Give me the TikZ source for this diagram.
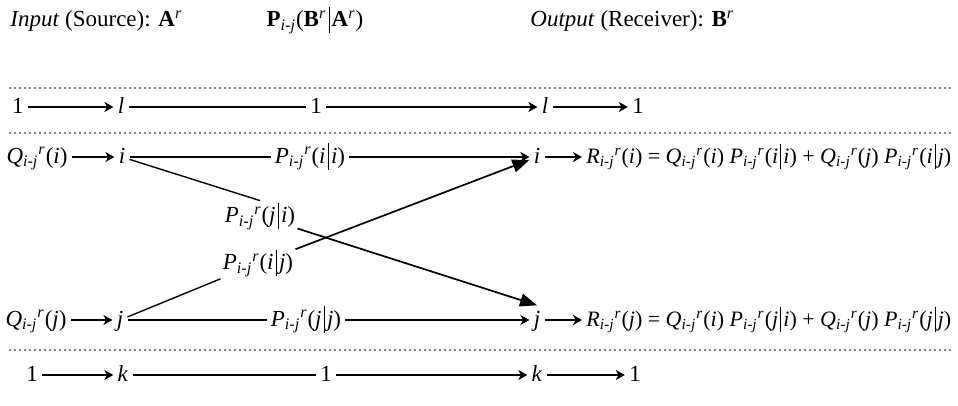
\documentclass[tikz,border=0pt]{standalone}
\usepackage{fontspec}
\setmainfont{Liberation Serif}
\usetikzlibrary{arrows.meta}
\newcommand{\cbar}{\hspace{0.1em}\rule[-0.28em]{0.035em}{1.15em}\hspace{0.1em}}
\newcommand{\ijr}{\textsubscript{\textit{i-j}}\textsuperscript{\textit{r}}}
\newcommand{\qij}[1]{\textit{Q}\ijr(\textit{#1})}
\newcommand{\pij}[2]{\textit{P}\ijr(\textit{#1}\cbar\textit{#2})}
\newcommand{\rij}[1]{\textit{R}\ijr(\textit{#1})}
\tikzset{
  >={Stealth[length=4.5pt,width=5pt,inset=1.3pt]},
  flow/.style={->, line width=0.7pt},
  link/.style={line width=0.7pt},
  cross/.style={-{Triangle[length=8.5pt,width=6.5pt]}, line width=0.85pt},
  term/.style={inner sep=2pt, text height=1.8ex, text depth=0.45ex},
  cond/.style={inner sep=1pt},
  sum/.style={term, anchor=west, font=\fontsize{11}{13}\selectfont},
  dotrule/.style={line width=0.8pt, line cap=round, dash pattern=on 0pt off 2.5pt}
}
\begin{document}
\begin{tikzpicture}[x=0.5pt, y=-0.5pt, font=\fontsize{11.5}{13}\selectfont]
\useasboundingbox (0,0) rectangle (958,406);
% heading
\node[anchor=base west, inner sep=0] (src) at (10,27) {\textit{Input} (Source): \textbf{A}\textsuperscript{\textit{r}}};
\node[anchor=base, inner sep=0] (chan) at (315,27) {\textbf{P}\textsubscript{\textit{i-j}}(\textbf{B}\textsuperscript{\textit{r}}\cbar\textbf{A}\textsuperscript{\textit{r}})};
\node[anchor=base west, inner sep=0] (dst) at (530,27) {\textit{Output} (Receiver): \textbf{B}\textsuperscript{\textit{r}}};

\draw[dotrule] (10,88) -- (953,88);
\draw[dotrule] (10,133) -- (953,133);
\draw[dotrule] (10,350) -- (953,350);

% row l
\node[term] (la) at (18,107) {1};
\node[term] (lb) at (121,107) {\textit{l}};
\node[term] (lc) at (316,107) {1};
\node[term] (ld) at (545,107) {\textit{l}};
\node[term] (le) at (638,107) {1};
\draw[flow] (la) -- (lb);
\draw[link] (lb) -- (lc);
\draw[flow] (lc) -- (ld);
\draw[flow] (ld) -- (le);

% row i
\node[term] (qi) at (37,157) {\qij{i}};
\node[term] (ia) at (122,157) {\textit{i}};
\node[term] (pii) at (310,157) {\pij{i}{i}};
\node[term] (ib) at (537,157) {\textit{i}};
\node[sum] (ri) at (582,157) {\rij{i} = \qij{i} \pij{i}{i} + \qij{j} \pij{i}{j}};
\draw[flow] (qi) -- (ia);
\draw[link] (ia) -- (pii);
\draw[flow] (pii) -- (ib);
\draw[flow] (ib) -- (ri);

% row j
\node[term] (qj) at (36,320) {\qij{j}};
\node[term] (ja) at (120,320) {\textit{j}};
\node[term] (pjj) at (306,320) {\pij{j}{j}};
\node[term] (jb) at (537,320) {\textit{j}};
\node[sum] (rj) at (582,320) {\rij{j} = \qij{i} \pij{j}{i} + \qij{j} \pij{j}{j}};
\draw[flow] (qj) -- (ja);
\draw[link] (ja) -- (pjj);
\draw[flow] (pjj) -- (jb);
\draw[flow] (jb) -- (rj);

% crossing
\node[cond, anchor=base] (pji) at (260,223) {\pij{j}{i}};
\node[cond, anchor=base] (pij) at (258,270) {\pij{i}{j}};
\draw[link] (ia) -- (pji.north);
\draw[cross] (pji) -- (jb.north);
\draw[link] (ja) -- (pij);
\draw[cross] (pij) -- (ib);

% row k
\node[term] (ka) at (32,375) {1};
\node[term] (kb) at (123,375) {\textit{k}};
\node[term] (kc) at (326,375) {1};
\node[term] (kd) at (537,375) {\textit{k}};
\node[term] (ke) at (635,375) {1};
\draw[flow] (ka) -- (kb);
\draw[link] (kb) -- (kc);
\draw[flow] (kc) -- (kd);
\draw[flow] (kd) -- (ke);
\end{tikzpicture}
\end{document}
